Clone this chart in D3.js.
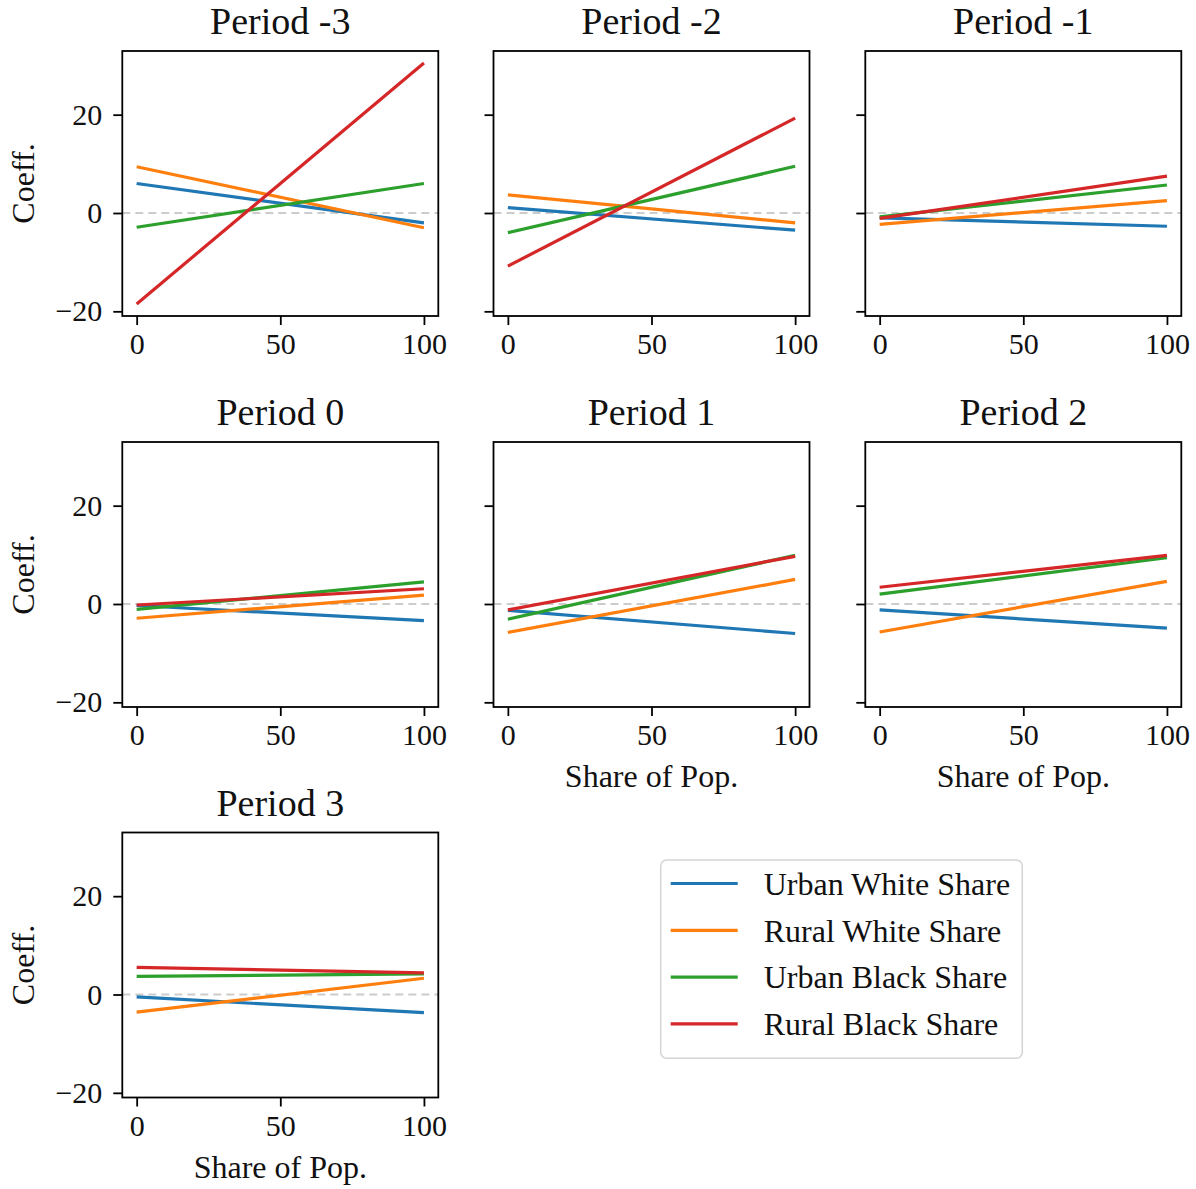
<!DOCTYPE html>
<html lang="en">
<head>
<meta charset="utf-8">
<title>Coefficients by period</title>
<script src="https://d3js.org/d3.v7.min.js"></script>
<style>
  body { margin: 0; background: #fff; }
  text { font-family: "Liberation Serif", "Times New Roman", serif; fill: #111; }
</style>
</head>
<body>
<svg id="chart" width="1196" height="1189"></svg>
<script>
// panels and series
var periods = ["Period -3", "Period -2", "Period -1", "Period 0", "Period 1", "Period 2", "Period 3"];
var seriesNames = ["Urban White Share", "Rural White Share", "Urban Black Share", "Rural Black Share"];
var seriesColors = ["#1f77b4", "#ff7f0e", "#2ca02c", "#d62728"];
var xPoints = [0, 100];
var xTicks = [0, 50, 100];
var yTicks = [-20, 0, 20];

// value of each line at x=0 and x=100, one entry per period
var urbanWhite = [[6.0, -2.0], [1.1, -3.5], [-1.0, -2.7], [-0.3, -3.4], [-1.3, -6.0], [-1.2, -4.9], [-0.5, -3.7]];
var ruralWhite = [[9.4, -3.0], [3.7, -2.0], [-2.3, 2.5], [-2.9, 1.8], [-5.8, 5.0], [-5.7, 4.6], [-3.6, 3.3]];
var urbanBlack = [[-2.9, 6.0], [-4.0, 9.5], [-0.8, 5.7], [-1.1, 4.5], [-3.1, 9.9], [2.0, 9.4], [3.7, 4.2]];
var ruralBlack = [[-18.5, 30.5], [-10.8, 19.3], [-1.1, 7.5], [-0.2, 3.1], [-1.2, 9.7], [3.4, 9.9], [5.5, 4.4]];
var allSeries = [urbanWhite, ruralWhite, urbanBlack, ruralBlack];

var svg = d3.select("#chart");

var panelW = 316, panelH = 265;
var colLeft = [122.3, 493.5, 865.3];
var rowTop = [51, 442, 832.5];

var x = d3.scaleLinear().domain([-5, 105]).range([0, panelW]);
var y = d3.scaleLinear().domain([-20.95, 32.95]).range([panelH, 0]);

var fmt = function (d) { return d < 0 ? "\u2212" + Math.abs(d) : String(d); };

var line = d3.line()
  .x(function (d) { return x(d[0]); })
  .y(function (d) { return y(d[1]); });

periods.forEach(function (name, i) {
  var col = i % 3, row = Math.floor(i / 3);
  var g = svg.append("g")
    .attr("transform", "translate(" + colLeft[col] + "," + rowTop[row] + ")");

  // zero reference line
  g.append("line")
    .attr("x1", 0).attr("x2", panelW)
    .attr("y1", y(0)).attr("y2", y(0))
    .attr("stroke", "#cccccc")
    .attr("stroke-width", 1.8)
    .attr("stroke-dasharray", "8,5");

  allSeries.forEach(function (s, k) {
    var pts = xPoints.map(function (xv, j) { return [xv, s[i][j]]; });
    g.append("path")
      .attr("d", line(pts))
      .attr("fill", "none")
      .attr("stroke", seriesColors[k])
      .attr("stroke-width", 3.2);
  });

  // frame
  g.append("rect")
    .attr("width", panelW).attr("height", panelH)
    .attr("fill", "none").attr("stroke", "#000").attr("stroke-width", 1.8);

  var xAxis = g.append("g")
    .attr("transform", "translate(0," + panelH + ")")
    .call(d3.axisBottom(x).tickValues(xTicks).tickSize(9).tickPadding(8).tickFormat(fmt));

  var yAxis = g.append("g")
    .call(d3.axisLeft(y).tickValues(yTicks).tickSize(9).tickPadding(11)
      .tickFormat(col === 0 ? fmt : function () { return ""; }));

  [xAxis, yAxis].forEach(function (a) {
    a.attr("font-family", null).attr("font-size", null);
    a.select(".domain").remove();
    a.selectAll(".tick line").attr("stroke", "#000").attr("stroke-width", 1.8);
    a.selectAll(".tick text")
      .attr("font-family", "Liberation Serif, serif")
      .style("font-size", "30px")
      .attr("fill", "#111");
  });

  g.append("text")
    .attr("x", panelW / 2).attr("y", -17)
    .attr("text-anchor", "middle")
    .style("font-size", "38px")
    .text(name);

  if (col === 0) {
    g.append("text")
      .attr("transform", "translate(-88," + (panelH / 2) + ") rotate(-90)")
      .attr("text-anchor", "middle")
      .style("font-size", "32px")
      .text("Coeff.");
  }
  if (i >= 4) {
    g.append("text")
      .attr("x", panelW / 2).attr("y", panelH + 80)
      .attr("text-anchor", "middle")
      .style("font-size", "32px")
      .text("Share of Pop.");
  }
});

// legend
var leg = svg.append("g").attr("transform", "translate(660.7,860)");
leg.append("rect")
  .attr("width", 361.6).attr("height", 198.3)
  .attr("rx", 6).attr("ry", 6)
  .attr("fill", "#fff").attr("stroke", "#d4d4d4").attr("stroke-width", 1.5);

seriesNames.forEach(function (n, k) {
  var ly = 23.5 + k * 46.8;
  leg.append("line")
    .attr("x1", 10).attr("x2", 77)
    .attr("y1", ly).attr("y2", ly)
    .attr("stroke", seriesColors[k]).attr("stroke-width", 3.2);
  leg.append("text")
    .attr("x", 103).attr("y", ly)
    .attr("dy", "0.35em")
    .style("font-size", "32px")
    .text(n);
});
</script>
</body>
</html>
